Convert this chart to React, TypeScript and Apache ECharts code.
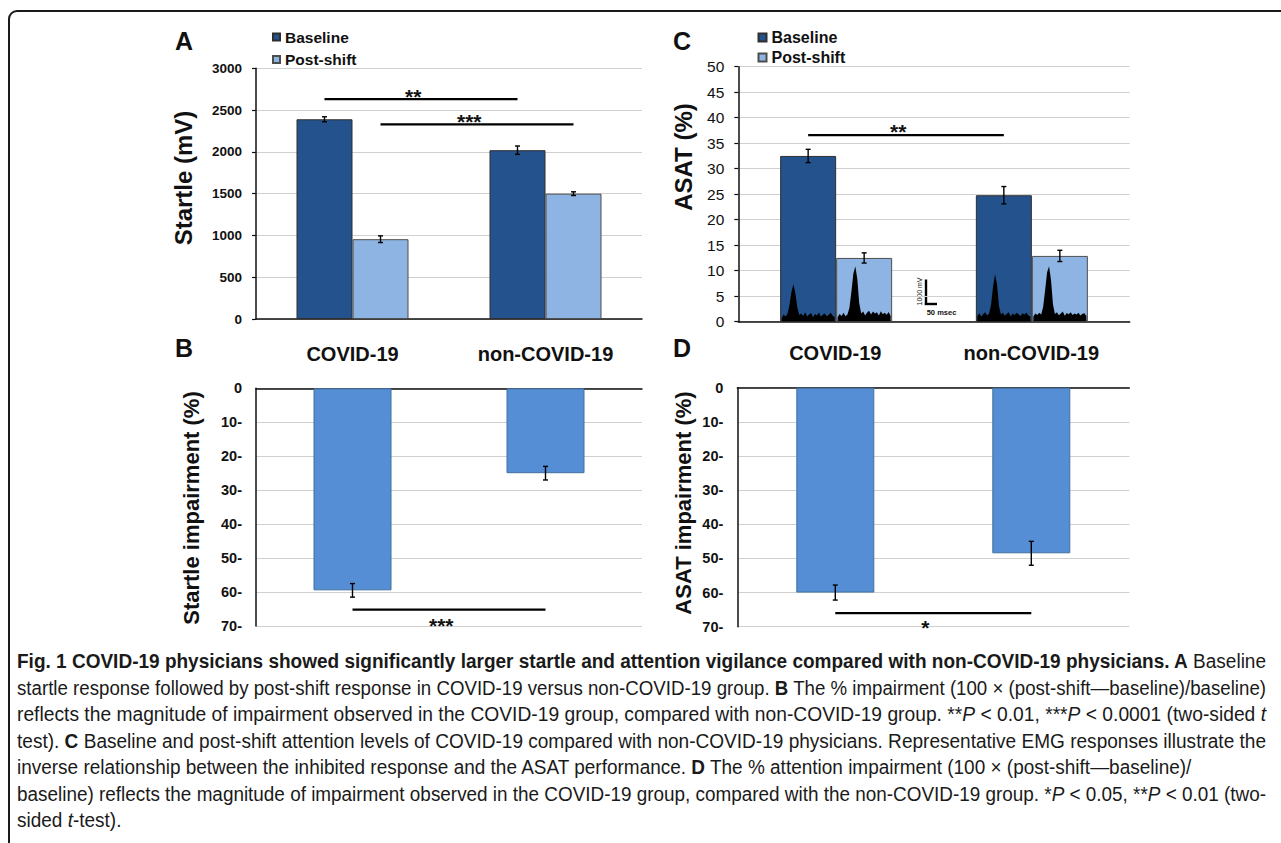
import React, { useEffect, useLayoutEffect, useRef } from "react";
import * as echarts from "echarts";

// ---------- data ----------
const categories = ["COVID-19", "non-COVID-19"];

// Panel A: startle (mV)
const startleBaseline = [2390, 2020];
const startleBaselineErr = [30, 50];
const startlePost = [955, 1500];
const startlePostErr = [40, 22];

// Panel B: startle impairment (%)
const startleImpairment = [59.5, 25];
const startleImpairmentErr = [2.0, 2.0];

// Panel C: ASAT (%)
const asatBaseline = [32.5, 24.8];
const asatBaselineErr = [1.3, 1.7];
const asatPost = [12.5, 12.9];
const asatPostErr = [1.0, 1.1];

// Panel D: ASAT impairment (%)
const asatImpairment = [60, 48.5];
const asatImpairmentErr = [2.2, 3.5];

// significance brackets: [fromCategory, fromBar(-1 baseline / +1 post / 0 single), toCategory, toBar, level]
const sigA = [
  [0, -1, 1, -1, 2630],
  [0, 1, 1, 1, 2330],
];
const sigAMarks = ["**", "***"];
const sigB = [[0, 0, 1, 0, 65.2]];
const sigBMarks = ["***"];
const sigC = [[0, -1, 1, -1, 36.6]];
const sigCMarks = ["**"];
const sigD = [[0, 0, 1, 0, 66]];
const sigDMarks = ["*"];

// representative EMG responses (mV samples), one trace per bar in panel C
const emgCovidBaseline = [120, 260, 180, 300, 640, 1150, 1440, 1080, 520, 240, 300, 200, 350, 180, 260, 320, 150, 280, 220, 340, 170, 260, 300, 190, 250, 330, 210, 160];
const emgCovidPost = [150, 280, 200, 330, 190, 260, 520, 1150, 1850, 2140, 1650, 700, 300, 380, 220, 340, 410, 260, 380, 300, 350, 220, 390, 270, 330, 250, 360, 200];
const emgNonCovidBaseline = [200, 310, 180, 280, 350, 220, 300, 650, 1350, 1830, 1450, 600, 260, 330, 210, 290, 350, 180, 300, 240, 330, 270, 200, 310, 260, 340, 220, 180];
const emgNonCovidPost = [180, 300, 240, 330, 260, 560, 1200, 1900, 2140, 1600, 650, 280, 350, 230, 300, 380, 210, 320, 270, 350, 240, 300, 260, 330, 220, 290, 310, 200];
const emgTraces = [emgCovidBaseline, emgCovidPost, emgNonCovidBaseline, emgNonCovidPost];
// [category, bar side, trace index]
const emgPlacement = [
  [0, -1, 0],
  [0, 1, 1],
  [1, -1, 2],
  [1, 1, 3],
];

// ---------- styles ----------
const FONT = "'Liberation Sans', Arial, sans-serif";
const DARK = "#24528c";
const LIGHT = "#8db4e2";
const MID = "#558ed5";
const GRID_LINE = "#d0d0d0";
const PAIR_BAR_W = 56;
const SINGLE_BAR_W = 78;
const MV_TO_PX = 25.7 / 1000;

function errorBars(grid: number, values: number[], errs: number[], offset: number) {
  return {
    type: "custom",
    xAxisIndex: grid,
    yAxisIndex: grid,
    z: 10,
    silent: true,
    data: values.map((v, i) => [i, v, errs[i]]),
    encode: { x: 0, y: 1 },
    renderItem: (params: any, api: any) => {
      const i = api.value(0);
      const v = api.value(1);
      const e = api.value(2);
      const p1 = api.coord([i, v - e]);
      const p2 = api.coord([i, v + e]);
      const x = p1[0] + offset;
      const st = { stroke: "#000", lineWidth: 1.4 };
      return {
        type: "group",
        children: [
          { type: "line", shape: { x1: x, y1: p1[1], x2: x, y2: p2[1] }, style: st },
          { type: "line", shape: { x1: x - 2.5, y1: p1[1], x2: x + 2.5, y2: p1[1] }, style: st },
          { type: "line", shape: { x1: x - 2.5, y1: p2[1], x2: x + 2.5, y2: p2[1] }, style: st },
        ],
      };
    },
  };
}

function sigSeries(grid: number, rows: number[][], marks: string[], half: number, dy: number) {
  return {
    type: "custom",
    xAxisIndex: grid,
    yAxisIndex: grid,
    z: 11,
    silent: true,
    data: rows,
    encode: { x: [0, 2], y: 4 },
    renderItem: (params: any, api: any) => {
      const a = api.coord([api.value(0), api.value(4)]);
      const b = api.coord([api.value(2), api.value(4)]);
      const x1 = a[0] + api.value(1) * half;
      const x2 = b[0] + api.value(3) * half;
      const y = a[1];
      return {
        type: "group",
        children: [
          { type: "line", shape: { x1, y1: y, x2, y2: y }, style: { stroke: "#000", lineWidth: 2.3 } },
          {
            type: "text",
            x: x1 + (x2 - x1) * 0.46,
            y: y + dy,
            style: {
              text: marks[params.dataIndex],
              font: `bold 21px ${FONT}`,
              fill: "#111",
              align: "center",
              verticalAlign: "middle",
            },
          },
        ],
      };
    },
  };
}

function emgSeries() {
  return {
    type: "custom",
    xAxisIndex: 2,
    yAxisIndex: 2,
    z: 5,
    silent: true,
    data: emgPlacement,
    encode: { x: 0 },
    renderItem: (params: any, api: any) => {
      const cat = api.value(0);
      const side = api.value(1);
      const trace = emgTraces[api.value(2)];
      const base = api.coord([cat, 0]);
      const x0 = base[0] + (side < 0 ? -PAIR_BAR_W : 0) + 1.5;
      const w = PAIR_BAR_W - 3;
      const y0 = base[1] - 0.5;
      const pts: number[][] = [[x0, y0]];
      trace.forEach((v, k) => {
        pts.push([x0 + (k * w) / (trace.length - 1), y0 - v * MV_TO_PX]);
      });
      pts.push([x0 + w, y0]);
      return { type: "polygon", shape: { points: pts }, style: { fill: "#000" } };
    },
  };
}

const baseValueAxis = {
  type: "value",
  axisLine: { show: true, lineStyle: { color: "#111", width: 1.5 } },
  axisTick: { show: true, length: 4, lineStyle: { color: "#111", width: 1.2 } },
  splitLine: { show: true, lineStyle: { color: GRID_LINE, width: 1 } },
};

function buildOption() {
  const impairmentLabel = (v: number) => (v === 0 ? "0" : `${v}-`);
  const plainLabel = (v: number) => String(v);
  return {
    animation: false,
    backgroundColor: "#fff",
    textStyle: { fontFamily: FONT },
    grid: [
      { left: 256, top: 68.3, width: 386, height: 250.7, outerBoundsMode: "none" },
      { left: 256, top: 388.3, width: 386, height: 237.7, outerBoundsMode: "none" },
      { left: 738.3, top: 66.7, width: 391.4, height: 255, outerBoundsMode: "none" },
      { left: 737.3, top: 387.7, width: 392, height: 239, outerBoundsMode: "none" },
    ],
    legend: [
      {
        data: ["Baseline", "Post-shift"],
        orient: "vertical",
        left: 267,
        top: 24,
        itemWidth: 7,
        itemHeight: 7,
        itemGap: 6.5,
        icon: "rect",
        selectedMode: false,
        textStyle: { fontFamily: FONT, fontWeight: "bold", fontSize: 15.5, color: "#111" },
      },
      {
        data: ["Baseline", "Post-shift"],
        orient: "vertical",
        left: 752.5,
        top: 24.5,
        itemWidth: 8,
        itemHeight: 8,
        itemGap: 4,
        icon: "rect",
        selectedMode: false,
        textStyle: { fontFamily: FONT, fontWeight: "bold", fontSize: 16, color: "#111" },
      },
    ],
    xAxis: [
      {
        type: "category",
        gridIndex: 0,
        data: categories,
        axisLine: { lineStyle: { color: "#111", width: 1.5 } },
        axisTick: { length: 4, lineStyle: { color: "#111" } },
        axisLabel: { show: false },
      },
      {
        type: "category",
        gridIndex: 1,
        data: categories,
        position: "top",
        axisLine: { lineStyle: { color: "#111", width: 1.5 } },
        axisTick: { length: 4, lineStyle: { color: "#111" } },
        axisLabel: { fontFamily: FONT, fontWeight: "bold", fontSize: 20, color: "#111", margin: 24 },
      },
      {
        type: "category",
        gridIndex: 2,
        data: categories,
        axisLine: { lineStyle: { color: "#111", width: 1.5 } },
        axisTick: { length: 4, lineStyle: { color: "#111" } },
        axisLabel: { show: false },
      },
      {
        type: "category",
        gridIndex: 3,
        data: categories,
        position: "top",
        axisLine: { lineStyle: { color: "#111", width: 1.5 } },
        axisTick: { length: 4, lineStyle: { color: "#111" } },
        axisLabel: { fontFamily: FONT, fontWeight: "bold", fontSize: 20, color: "#111", margin: 25 },
      },
    ],
    yAxis: [
      {
        ...baseValueAxis,
        gridIndex: 0,
        min: 0,
        max: 3000,
        interval: 500,
        axisLabel: { fontFamily: FONT, fontWeight: "bold", fontSize: 13.5, color: "#111", margin: 14, formatter: plainLabel },
      },
      {
        ...baseValueAxis,
        gridIndex: 1,
        min: 0,
        max: 70,
        interval: 10,
        inverse: true,
        axisTick: { show: false },
        axisLabel: { fontFamily: FONT, fontWeight: "bold", fontSize: 14.5, color: "#111", margin: 14, formatter: impairmentLabel },
      },
      {
        ...baseValueAxis,
        gridIndex: 2,
        min: 0,
        max: 50,
        interval: 5,
        axisLabel: { fontFamily: FONT, fontSize: 15.5, color: "#111", margin: 14, formatter: plainLabel },
      },
      {
        ...baseValueAxis,
        gridIndex: 3,
        min: 0,
        max: 70,
        interval: 10,
        inverse: true,
        axisTick: { show: false },
        axisLabel: { fontFamily: FONT, fontWeight: "bold", fontSize: 14.5, color: "#111", margin: 14, formatter: impairmentLabel },
      },
    ],
    series: [
      {
        type: "bar",
        name: "Baseline",
        xAxisIndex: 0,
        yAxisIndex: 0,
        data: startleBaseline,
        barWidth: PAIR_BAR_W,
        barGap: "0%",
        itemStyle: { color: DARK, borderColor: "#2f2f2f", borderWidth: 1 },
      },
      {
        type: "bar",
        name: "Post-shift",
        xAxisIndex: 0,
        yAxisIndex: 0,
        data: startlePost,
        barWidth: PAIR_BAR_W,
        barGap: "0%",
        itemStyle: { color: LIGHT, borderColor: "#4d4d4d", borderWidth: 1 },
      },
      errorBars(0, startleBaseline, startleBaselineErr, -PAIR_BAR_W / 2),
      errorBars(0, startlePost, startlePostErr, PAIR_BAR_W / 2),
      sigSeries(0, sigA, sigAMarks, PAIR_BAR_W / 2, -3),

      {
        type: "bar",
        name: "Startle impairment",
        xAxisIndex: 1,
        yAxisIndex: 1,
        data: startleImpairment,
        barWidth: SINGLE_BAR_W,
        itemStyle: { color: MID, borderColor: "#41719c", borderWidth: 1 },
      },
      errorBars(1, startleImpairment, startleImpairmentErr, 0),
      sigSeries(1, sigB, sigBMarks, 0, 16),

      {
        type: "bar",
        name: "Baseline",
        xAxisIndex: 2,
        yAxisIndex: 2,
        data: asatBaseline,
        barWidth: PAIR_BAR_W,
        barGap: "0%",
        itemStyle: { color: DARK, borderColor: "#2f2f2f", borderWidth: 1 },
      },
      {
        type: "bar",
        name: "Post-shift",
        xAxisIndex: 2,
        yAxisIndex: 2,
        data: asatPost,
        barWidth: PAIR_BAR_W,
        barGap: "0%",
        itemStyle: { color: LIGHT, borderColor: "#4d4d4d", borderWidth: 1 },
      },
      emgSeries(),
      errorBars(2, asatBaseline, asatBaselineErr, -PAIR_BAR_W / 2),
      errorBars(2, asatPost, asatPostErr, PAIR_BAR_W / 2),
      sigSeries(2, sigC, sigCMarks, PAIR_BAR_W / 2, -3.7),

      {
        type: "bar",
        name: "ASAT impairment",
        xAxisIndex: 3,
        yAxisIndex: 3,
        data: asatImpairment,
        barWidth: SINGLE_BAR_W,
        itemStyle: { color: MID, borderColor: "#41719c", borderWidth: 1 },
      },
      errorBars(3, asatImpairment, asatImpairmentErr, 0),
      sigSeries(3, sigD, sigDMarks, 0, 14),
    ],
    graphic: [
      {
        type: "rect",
        shape: { x: 9, y: 11, width: 1300, height: 900, r: 8 },
        style: { fill: "none", stroke: "#1a1a1a", lineWidth: 2 },
        silent: true,
      },
      ...[
        ["A", 175, 41],
        ["B", 175, 347.5],
        ["C", 673, 41],
        ["D", 673, 347.5],
      ].map(([t, x, y]) => ({
        type: "text",
        x,
        y,
        style: { text: t, font: `bold 25px ${FONT}`, fill: "#111", align: "left", verticalAlign: "middle" },
      })),
      ...[
        ["Startle (mV)", 183, 178, 24],
        ["Startle impairment (%)", 191, 508, 22],
        ["ASAT (%)", 683.3, 157, 24],
        ["ASAT impairment (%)", 683, 503, 22],
      ].map(([t, x, y, fs]) => ({
        type: "text",
        x,
        y,
        rotation: Math.PI / 2,
        style: { text: t, font: `bold ${fs}px ${FONT}`, fill: "#111", align: "center", verticalAlign: "middle" },
      })),
      // EMG scale bar
      { type: "line", shape: { x1: 926, y1: 279.5, x2: 926, y2: 305 }, style: { stroke: "#000", lineWidth: 2.4 } },
      { type: "line", shape: { x1: 924.8, y1: 304, x2: 937, y2: 304 }, style: { stroke: "#000", lineWidth: 2.4 } },
      {
        type: "text",
        x: 919.5,
        y: 291.5,
        rotation: Math.PI / 2,
        style: { text: "1000 mV", font: `7px ${FONT}`, fill: "#111", align: "center", verticalAlign: "middle" },
      },
      {
        type: "text",
        x: 941.5,
        y: 312,
        style: { text: "50 msec", font: `bold 7.5px ${FONT}`, fill: "#111", align: "center", verticalAlign: "middle" },
      },
    ],
  };
}

const CAPTION_FONT = "'Liberation Sans', Arial, sans-serif";
const CAPTION_LEFT = 17;
const CAPTION_WIDTH = 1249;

const captionLines: { content: React.ReactNode; justify: boolean }[] = [
  {
    content: (
      <>
        <b>Fig. 1 COVID-19 physicians showed significantly larger startle and attention vigilance compared with non-COVID-19 physicians. A</b> Baseline
      </>
    ),
    justify: true,
  },
  {
    content: (
      <>
        startle response followed by post-shift response in COVID-19 versus non-COVID-19 group. <b>B</b> The % impairment (100 × (post-shift—baseline)/baseline)
      </>
    ),
    justify: true,
  },
  {
    content: (
      <>
        reflects the magnitude of impairment observed in the COVID-19 group, compared with non-COVID-19 group. **<i>P</i> &lt; 0.01, ***<i>P</i> &lt; 0.0001 (two-sided <i>t</i>
      </>
    ),
    justify: true,
  },
  {
    content: (
      <>
        test). <b>C</b> Baseline and post-shift attention levels of COVID-19 compared with non-COVID-19 physicians. Representative EMG responses illustrate the
      </>
    ),
    justify: true,
  },
  {
    content: (
      <>
        inverse relationship between the inhibited response and the ASAT performance. <b>D</b> The % attention impairment (100 × (post-shift—baseline)/
      </>
    ),
    justify: false,
  },
  {
    content: (
      <>
        baseline) reflects the magnitude of impairment observed in the COVID-19 group, compared with the non-COVID-19 group. *<i>P</i> &lt; 0.05, **<i>P</i> &lt; 0.01 (two-
      </>
    ),
    justify: true,
  },
  {
    content: (
      <>
        sided <i>t</i>-test).
      </>
    ),
    justify: false,
  },
];
const captionCenters = [661, 688, 714, 741, 767, 794, 820];

export default function App() {
  const ref = useRef<HTMLDivElement>(null);
  const spans = useRef<(HTMLSpanElement | null)[]>([]);

  useLayoutEffect(() => {
    const widths = spans.current.map((s) => (s ? s.getBoundingClientRect().width : 0));
    const fitted = widths.map((w, i) => (captionLines[i].justify && w > 0 ? CAPTION_WIDTH / w : 0));
    const justified = fitted.filter((s) => s > 0);
    const mean = justified.reduce((a, b) => a + b, 0) / Math.max(1, justified.length);
    spans.current.forEach((s, i) => {
      if (s) s.style.transform = `scaleX(${fitted[i] || mean})`;
    });
  }, []);

  useEffect(() => {
    if (!ref.current) return;
    const chart = echarts.init(ref.current, undefined, { renderer: "svg" });
    chart.setOption(buildOption() as any);
    return () => chart.dispose();
  }, []);

  return (
    <div style={{ position: "fixed", left: 0, top: 0, width: 1281, height: 843, background: "#fff", overflow: "hidden" }}>
      <div ref={ref} style={{ position: "absolute", left: 0, top: 0, width: 1281, height: 843 }} />
      {captionLines.map((line, i) => (
        <div
          key={i}
          style={{
            position: "absolute",
            left: CAPTION_LEFT,
            top: captionCenters[i] - 13,
            height: 26,
            lineHeight: "26px",
            fontFamily: CAPTION_FONT,
            fontSize: 20,
            color: "#1a1a1a",
            whiteSpace: "nowrap",
          }}
        >
          <span
            ref={(el) => {
              spans.current[i] = el;
            }}
            style={{ display: "inline-block", whiteSpace: "nowrap", transformOrigin: "0 50%" }}
          >
            {line.content}
          </span>
        </div>
      ))}
    </div>
  );
}
